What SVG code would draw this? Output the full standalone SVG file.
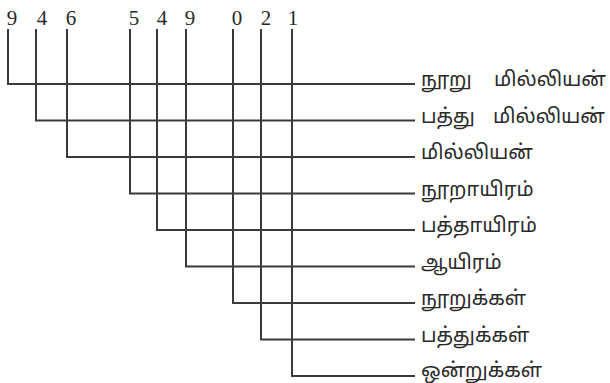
<svg xmlns="http://www.w3.org/2000/svg" width="610" height="383" viewBox="0 0 610 383">
<style>
.d{font-family:"Liberation Serif","DejaVu Serif",serif;font-size:21px;fill:#2a2a2a;text-anchor:middle}
.t{font-family:"Noto Sans Tamil","Noto Sans","Lohit Tamil",sans-serif;font-size:20px;fill:#2a2a2a}
.c path{fill:none;stroke:#3a3a3a;stroke-width:2}
</style>
<rect width="610" height="383" fill="#fff"/>
<g class="c" id="connectors">
<path d="M8,29V84H415"/>
<path d="M36,29V120.5H415"/>
<path d="M67,29V157H415"/>
<path d="M130,29V193.5H415"/>
<path d="M157,29V230H415"/>
<path d="M186,29V266.5H415"/>
<path d="M233,29V303H415"/>
<path d="M261,29V339.5H415"/>
<path d="M292,29V376H415"/>
</g>
<g id="n1"><text class="d" x="12" y="25">9</text><text class="t" x="421" y="86">நூறு<tspan x="494">மில்லியன்</tspan></text></g>
<g id="n2"><text class="d" x="42" y="25">4</text><text class="t" x="421" y="122.5">பத்து<tspan x="493">மில்லியன்</tspan></text></g>
<g id="n3"><text class="d" x="71" y="25">6</text><text class="t" x="421" y="159">மில்லியன்</text></g>
<g id="n4"><text class="d" x="134" y="25">5</text><text class="t" x="421" y="195.5">நூறாயிரம்</text></g>
<g id="n5"><text class="d" x="162" y="25">4</text><text class="t" x="421" y="232">பத்தாயிரம்</text></g>
<g id="n6"><text class="d" x="190" y="25">9</text><text class="t" x="421" y="268.5">ஆயிரம்</text></g>
<g id="n7"><text class="d" x="237" y="25">0</text><text class="t" x="421" y="305">நூறுக்கள்</text></g>
<g id="n8"><text class="d" x="266" y="25">2</text><text class="t" x="421" y="341.5">பத்துக்கள்</text></g>
<g id="n9"><text class="d" x="293" y="25">1</text><text class="t" x="421" y="377">ஒன்றுக்கள்</text></g>
</svg>
